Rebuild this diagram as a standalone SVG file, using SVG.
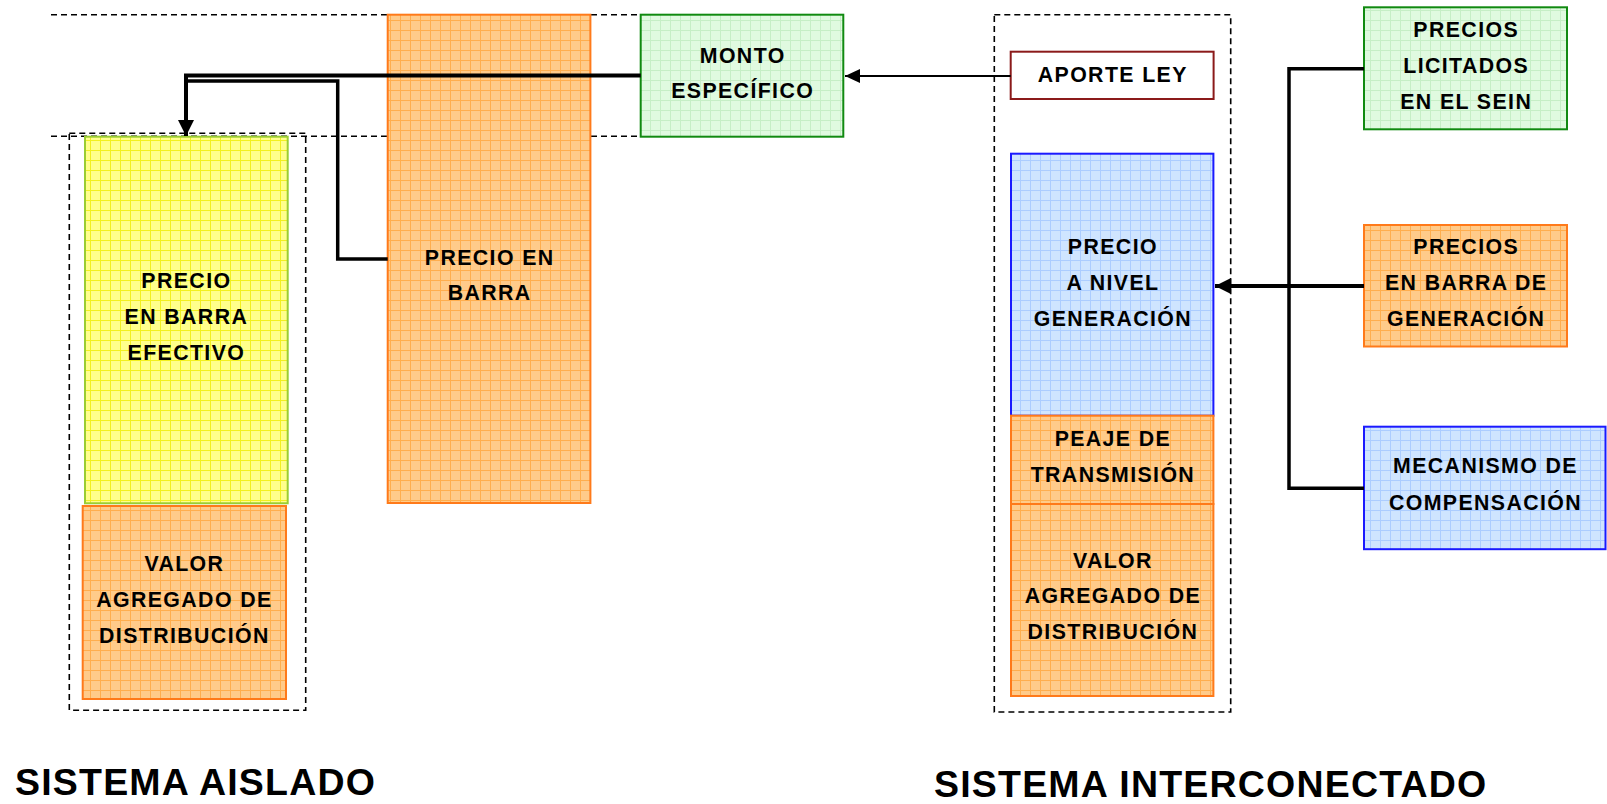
<svg xmlns="http://www.w3.org/2000/svg" width="1607" height="804" viewBox="0 0 1607 804">
<defs>
<pattern id="gOrange" width="10" height="10" patternUnits="userSpaceOnUse"><rect width="10" height="10" fill="#FFCB8A"/><path d="M0,0.5H10M0.5,0V10" stroke="#FFAE4E" stroke-width="1"/></pattern>
<pattern id="gYellow" width="10" height="10" patternUnits="userSpaceOnUse"><rect width="10" height="10" fill="#FFFF8C"/><path d="M0,0.5H10M0.5,0V10" stroke="#F2F020" stroke-width="1"/></pattern>
<pattern id="gGreen" width="10" height="10" patternUnits="userSpaceOnUse"><rect width="10" height="10" fill="#E0FAE0"/><path d="M0,0.5H10M0.5,0V10" stroke="#C6EEC6" stroke-width="1"/></pattern>
<pattern id="gBlue" width="10" height="10" patternUnits="userSpaceOnUse"><rect width="10" height="10" fill="#CFE5FF"/><path d="M0,0.5H10M0.5,0V10" stroke="#ACCDFF" stroke-width="1"/></pattern>
<marker id="arrThin" markerUnits="userSpaceOnUse" markerWidth="16" markerHeight="16" refX="15" refY="7" orient="auto"><path d="M0,0L15,7L0,14Z" fill="#000"/></marker>
<marker id="arrThick" markerUnits="userSpaceOnUse" markerWidth="18" markerHeight="18" refX="16" refY="8" orient="auto"><path d="M0,0L16,8L0,16Z" fill="#000"/></marker>
</defs>
<style>
.dash{fill:none;stroke:#000;stroke-width:1.6;stroke-dasharray:6,4}
.box{stroke-width:2}
.orange{fill:url(#gOrange);stroke:#FF7A1A}
.yellow{fill:url(#gYellow);stroke:#9ACD32}
.green{fill:url(#gGreen);stroke:#118A11}
.blue{fill:url(#gBlue);stroke:#1A1AFF}
.red{fill:#FFFFFF;stroke:#8B1A1A}
.t{font-family:"Liberation Sans",Arial,sans-serif;font-weight:bold;font-size:21.3px;letter-spacing:1.4px;text-anchor:middle;fill:#000}
.title{font-family:"Liberation Sans",Arial,sans-serif;font-weight:bold;font-size:37.5px;letter-spacing:1.2px;fill:#000}
.conn{fill:none;stroke:#000}
</style>
<g id="frames">
<line class="dash" x1="51" y1="14.7" x2="675" y2="14.7"/>
<line class="dash" x1="51" y1="136.3" x2="675" y2="136.3"/>
<rect class="dash" x="69.3" y="133.3" width="236.4" height="577"/>
<rect class="dash" x="994.3" y="14.7" width="236.4" height="697.3"/>
</g>
<g id="precio-barra-efectivo">
<rect class="box yellow" x="85" y="136.7" width="202.7" height="366.6"/>
<text class="t" x="186.4" y="288.3">PRECIO</text>
<text class="t" x="186.4" y="324">EN BARRA</text>
<text class="t" x="186.4" y="360">EFECTIVO</text>
</g>
<g id="vad-aislado">
<rect class="box orange" x="82.7" y="506" width="203.3" height="193"/>
<text class="t" x="184.4" y="571">VALOR</text>
<text class="t" x="184.4" y="606.7">AGREGADO DE</text>
<text class="t" x="184.4" y="642.7">DISTRIBUCIÓN</text>
</g>
<g id="precio-en-barra">
<rect class="box orange" x="387.7" y="14.7" width="202.7" height="488.3"/>
<text class="t" x="489.7" y="265">PRECIO EN</text>
<text class="t" x="489.7" y="300">BARRA</text>
</g>
<g id="monto-especifico">
<rect class="box green" x="640.7" y="14.7" width="202.6" height="122"/>
<text class="t" x="742.7" y="62.7">MONTO</text>
<text class="t" x="742.7" y="98.3">ESPECÍFICO</text>
</g>
<g id="aporte-ley">
<rect class="box red" x="1010.7" y="51.7" width="202.9" height="47.3"/>
<text class="t" x="1112.8" y="82">APORTE LEY</text>
</g>
<g id="precio-nivel-generacion">
<rect class="box blue" x="1011" y="153.7" width="202.4" height="262"/>
<text class="t" x="1112.9" y="254.3">PRECIO</text>
<text class="t" x="1112.9" y="290">A NIVEL</text>
<text class="t" x="1112.9" y="326">GENERACIÓN</text>
</g>
<g id="peaje-transmision">
<rect class="box orange" x="1011" y="415.7" width="202.4" height="88.3"/>
<text class="t" x="1112.9" y="445.7">PEAJE DE</text>
<text class="t" x="1112.9" y="481.7">TRANSMISIÓN</text>
</g>
<g id="vad-interconectado">
<rect class="box orange" x="1011" y="504" width="202.4" height="192"/>
<text class="t" x="1112.9" y="567.7">VALOR</text>
<text class="t" x="1112.9" y="603.3">AGREGADO DE</text>
<text class="t" x="1112.9" y="639.3">DISTRIBUCIÓN</text>
</g>
<g id="precios-licitados">
<rect class="box green" x="1364" y="7.3" width="203" height="122"/>
<text class="t" x="1466.2" y="36.7">PRECIOS</text>
<text class="t" x="1466.2" y="73.3">LICITADOS</text>
<text class="t" x="1466.2" y="109">EN EL SEIN</text>
</g>
<g id="precios-barra-generacion">
<rect class="box orange" x="1364" y="225" width="203" height="121.5"/>
<text class="t" x="1466.2" y="254">PRECIOS</text>
<text class="t" x="1466.2" y="290">EN BARRA DE</text>
<text class="t" x="1466.2" y="326">GENERACIÓN</text>
</g>
<g id="mecanismo-compensacion">
<rect class="box blue" x="1364" y="426.7" width="241.5" height="122.5"/>
<text class="t" x="1485.5" y="473.3">MECANISMO DE</text>
<text class="t" x="1485.5" y="510">COMPENSACIÓN</text>
</g>
<g id="connectors">
<path class="conn" stroke-width="2" d="M1010.7,76H845" marker-end="url(#arrThin)"/>
<path class="conn" stroke-width="4" d="M640.7,75.5H186V136" marker-end="url(#arrThick)"/>
<path class="conn" stroke-width="3.5" d="M387.7,259H337.7V81H186"/>
<path class="conn" stroke-width="3.5" d="M1364,68.7H1289V488.3H1364"/>
<path class="conn" stroke-width="3.8" d="M1364,286H1215" marker-end="url(#arrThick)"/>
</g>
<g id="titles">
<text class="title" x="15" y="795">SISTEMA AISLADO</text>
<text class="title" x="934" y="797">SISTEMA INTERCONECTADO</text>
</g>
</svg>
